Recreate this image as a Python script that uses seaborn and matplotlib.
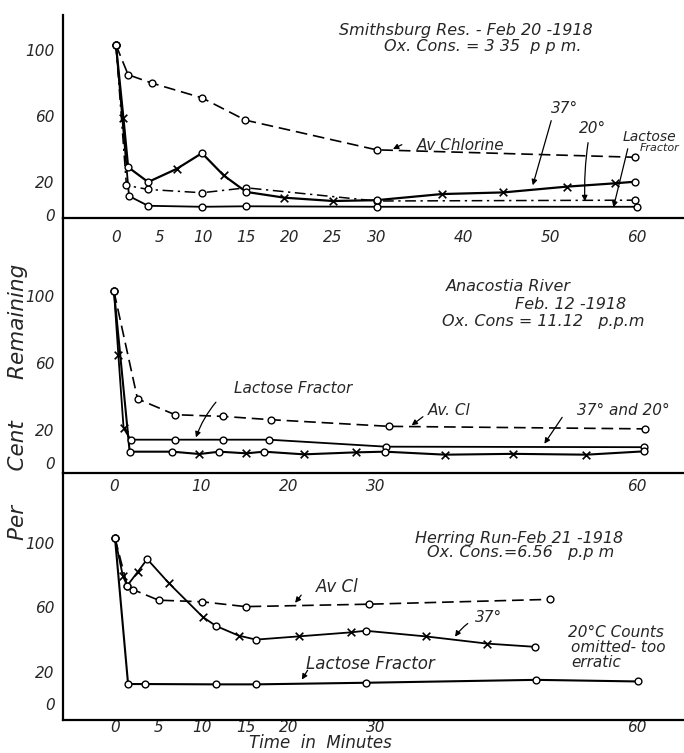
import pandas as pd
import numpy as np
import matplotlib
matplotlib.use("Agg")
import matplotlib.pyplot as plt
import seaborn as sns

# ---- Smithsburg Res. (top panel) ----
sm_cl_t = [0, 1.4, 4.1, 9.9, 14.9, 30, 59.8]
sm_cl_v = [103, 85, 80, 71, 57.5, 39.5, 35]
sm_cl_m = ['o'] * 7

sm_37_t = [0, 0.85, 1.4, 3.7, 7.0, 9.9, 12.4, 15, 19.4, 25, 30, 37.5, 44.6, 51.9, 57.4, 59.8]
sm_37_v = [103, 59, 29, 20, 28, 37.5, 24, 14, 10.5, 8.5, 9, 12.7, 13.7, 17.2, 19.2, 20.2]
sm_37_m = ['o', 'x', 'o', 'o', 'x', 'o', 'x', 'o', 'x', 'x', 'o', 'x', 'x', 'x', 'x', 'o']

sm_20_t = [0, 1.2, 3.7, 9.9, 15, 30, 59.8]
sm_20_v = [103, 18, 15.5, 13.5, 16.5, 8.5, 9]
sm_20_m = ['o'] * 7

sm_lf_t = [0, 1.5, 3.7, 9.9, 15, 30, 60]
sm_lf_v = [103, 11.5, 5.6, 5, 5.3, 5, 5]
sm_lf_m = ['o'] * 7

# ---- Anacostia River (middle panel) ----
an_cl_t = [0, 2.7, 7.0, 12.5, 18, 31.6, 60.9]
an_cl_v = [103, 38.5, 29, 28, 26, 22, 20.5]
an_cl_m = ['o'] * 7

an_lf_t = [0, 0.5, 1.1, 1.9, 7, 12.5, 17.8, 31.2, 60.8]
an_lf_v = [103, 65, 21, 14, 14, 14, 14, 9.8, 9.5]
an_lf_m = ['o', 'x', 'x', 'o', 'o', 'o', 'o', 'o', 'o']

an_3720_t = [0, 1.8, 6.7, 9.8, 12.1, 15.2, 17.2, 21.8, 27.8, 31.1, 38, 45.8, 54.2, 60.8]
an_3720_v = [103, 6.8, 6.8, 5.4, 6.8, 5.8, 6.8, 5.2, 6.4, 6.8, 5, 5.5, 5, 7]
an_3720_m = ['o', 'o', 'o', 'x', 'o', 'x', 'o', 'x', 'x', 'o', 'x', 'x', 'x', 'o']

# ---- Herring Run (bottom panel) ----
hr_cl_t = [0, 1.4, 2.1, 5.0, 10, 15, 29.2, 50]
hr_cl_v = [103, 73.5, 71, 64.5, 63.5, 60.5, 62, 65]
hr_cl_m = ['o'] * 8

hr_37_t = [0, 0.9, 1.4, 2.6, 3.7, 6.2, 10.1, 11.6, 14.2, 16.2, 21.1, 27.1, 28.8, 35.7, 42.8, 48.3]
hr_37_v = [103, 79.5, 73.5, 82, 90, 75, 54, 48.5, 42.5, 40, 42, 44.5, 45.5, 42, 37.5, 35.5]
hr_37_m = ['o', 'x', 'o', 'x', 'o', 'x', 'x', 'o', 'x', 'o', 'x', 'x', 'o', 'x', 'x', 'o']

hr_lf_t = [0, 1.5, 3.4, 11.6, 16.2, 28.9, 48.4, 60.1]
hr_lf_v = [103, 12.4, 12.4, 12.2, 12.2, 13.2, 15, 14]
hr_lf_m = ['o'] * 8

y_ticks = [0, 20, 60, 100]
top_xticks = [0, 5, 10, 15, 20, 25, 30, 40, 50, 60]
mid_xticks = [0, 10, 20, 30, 60]
bot_xticks = [0, 5, 10, 15, 20, 30, 60]

sns.set_style("white")
plt.rcParams['font.family'] = ['Liberation Sans Narrow', 'DejaVu Sans']
plt.rcParams['font.style'] = 'italic'

W, H = 684, 753
fig = plt.figure(figsize=(W / 100, H / 100), dpi=100)
fig.patch.set_facecolor('white')


def panel(top, bottom, xlim, ylim, xticks, xpad):
    ax = fig.add_axes([63 / W, 1 - bottom / H, (W - 63) / W, (bottom - top) / H])
    ax.set_facecolor('none')
    ax.set_xlim(*xlim)
    ax.set_ylim(*ylim)
    for s in ['top', 'right']:
        ax.spines[s].set_visible(False)
    for s in ['left', 'bottom']:
        ax.spines[s].set_linewidth(1.6)
        ax.spines[s].set_color('k')
    ax.set_xticks(xticks)
    ax.set_xticklabels([str(x) for x in xticks], fontsize=11, style='italic')
    ax.set_yticks(y_ticks)
    ax.set_yticklabels([str(y) for y in y_ticks], fontsize=11, style='italic')
    ax.tick_params(axis='x', direction='inout', length=6, width=1, pad=xpad)
    ax.tick_params(axis='y', length=0, pad=6)
    return ax


def series(ax, t, v, marks, ls, lw):
    sns.lineplot(x=t, y=v, ax=ax, color='k', linestyle=ls, lw=lw,
                 sort=False, estimator=None)
    df = pd.DataFrame({'t': t, 'v': v, 'm': marks})
    circ = df[df.m == 'o']
    crs = df[df.m == 'x']
    if len(circ):
        sns.scatterplot(data=circ, x='t', y='v', ax=ax, marker='o', s=24,
                        facecolor='white', edgecolor='k', linewidth=1, zorder=4)
    if len(crs):
        sns.scatterplot(data=crs, x='t', y='v', ax=ax, marker='x', s=30,
                        color='k', linewidth=1.2, zorder=4)
    ax.set_xlabel('')
    ax.set_ylabel('')


def arrow(ax, tail, tip, rad=0.0):
    ax.annotate('', xy=tip, xytext=tail,
                arrowprops=dict(arrowstyle='-|>', color='k', lw=0.9,
                                mutation_scale=8,
                                connectionstyle=f'arc3,rad={rad}'))


dashed = (0, (7, 3.5))
dashdot = (0, (7, 3, 1.5, 3))

# top panel
ax1 = panel(15, 218, (-6.1, 65.4), (-1.8, 121.2), top_xticks, 6)
series(ax1, sm_cl_t, sm_cl_v, sm_cl_m, dashed, 1.2)
series(ax1, sm_20_t, sm_20_v, sm_20_m, dashdot, 1.1)
series(ax1, sm_lf_t, sm_lf_v, sm_lf_m, '-', 1.3)
series(ax1, sm_37_t, sm_37_v, sm_37_m, '-', 1.6)
ax1.text(40.3, 112, 'Smithsburg Res. - Feb 20 -1918', fontsize=11.5, ha='center', va='center')
ax1.text(42.2, 102, 'Ox. Cons. = 3 35  p p m.', fontsize=11.5, ha='center', va='center')
ax1.text(39.7, 42, 'Av Chlorine', fontsize=11, ha='center', va='center')
arrow(ax1, (33.2, 43.4), (31.6, 39.2))
ax1.text(51.7, 64.8, '37°', fontsize=11, ha='center', va='center')
arrow(ax1, (50.2, 58.8), (47.9, 16.4))
ax1.text(54.9, 52.7, '20°', fontsize=11, ha='center', va='center')
arrow(ax1, (54.4, 45.5), (54.0, 6.7), rad=0.05)
ax1.text(61.4, 47.3, 'Lactose', fontsize=10, ha='center', va='center')
ax1.text(62.6, 40.6, 'Fractor', fontsize=8, ha='center', va='center')
arrow(ax1, (59.0, 41.8), (57.2, 3.0))

# middle panel
ax2 = panel(218, 473, (-5.85, 65.4), (-6.0, 147.1), mid_xticks, 1)
series(ax2, an_cl_t, an_cl_v, an_cl_m, dashed, 1.2)
series(ax2, an_lf_t, an_lf_v, an_lf_m, '-', 1.3)
series(ax2, an_3720_t, an_3720_v, an_3720_m, '-', 1.5)
ax2.text(45.2, 105.7, 'Anacostia River', fontsize=11.5, ha='center', va='center')
ax2.text(52.4, 94.9, 'Feb. 12 -1918', fontsize=11.5, ha='center', va='center')
ax2.text(49.2, 84.7, 'Ox. Cons = 11.12   p.p.m', fontsize=11.5, ha='center', va='center')
ax2.text(20.6, 45, 'Lactose Fractor', fontsize=11, ha='center', va='center')
arrow(ax2, (11.9, 37.8), (9.3, 13.8), rad=0.1)
ax2.text(38.5, 31.8, 'Av. Cl', fontsize=11, ha='center', va='center')
arrow(ax2, (35.7, 28.8), (33.9, 21.6))
ax2.text(58.4, 31.8, '37° and 20°', fontsize=11, ha='center', va='center')
arrow(ax2, (51.6, 28.8), (49.2, 10.2))

# bottom panel
ax3 = panel(473, 720, (-5.98, 65.4), (-9.94, 143.5), bot_xticks, -3)
series(ax3, hr_cl_t, hr_cl_v, hr_cl_m, dashed, 1.2)
series(ax3, hr_lf_t, hr_lf_v, hr_lf_m, '-', 1.5)
series(ax3, hr_37_t, hr_37_v, hr_37_m, '-', 1.3)
ax3.text(46.4, 103, 'Herring Run-Feb 21 -1918', fontsize=11.5, ha='center', va='center')
ax3.text(46.6, 94.4, 'Ox. Cons.=6.56   p.p m', fontsize=11.5, ha='center', va='center')
ax3.text(25.6, 72.7, 'Av Cl', fontsize=12, ha='center', va='center')
arrow(ax3, (21.6, 69), (20.5, 61.5))
ax3.text(42.9, 54, '37°', fontsize=11, ha='center', va='center')
arrow(ax3, (40.8, 51), (38.9, 40.4), rad=0.1)
ax3.text(52.1, 44.7, '20°C Counts', fontsize=11, ha='left', va='center')
ax3.text(52.4, 34.8, 'omitted- too', fontsize=11, ha='left', va='center')
ax3.text(52.4, 25.5, 'erratic', fontsize=11, ha='left', va='center')
ax3.text(29.3, 24.8, 'Lactose Fractor', fontsize=12, ha='center', va='center')
arrow(ax3, (22.3, 22.4), (21.3, 13.7))

fig.text(18 / W, 1 - 402 / H, 'Per     Cent      Remaining', rotation=90,
         fontsize=15.5, ha='center', va='center')
fig.text(320 / W, 1 - 748 / H, 'Time  in  Minutes', fontsize=12,
         ha='center', va='baseline')

fig.savefig('out.png', dpi=100)
